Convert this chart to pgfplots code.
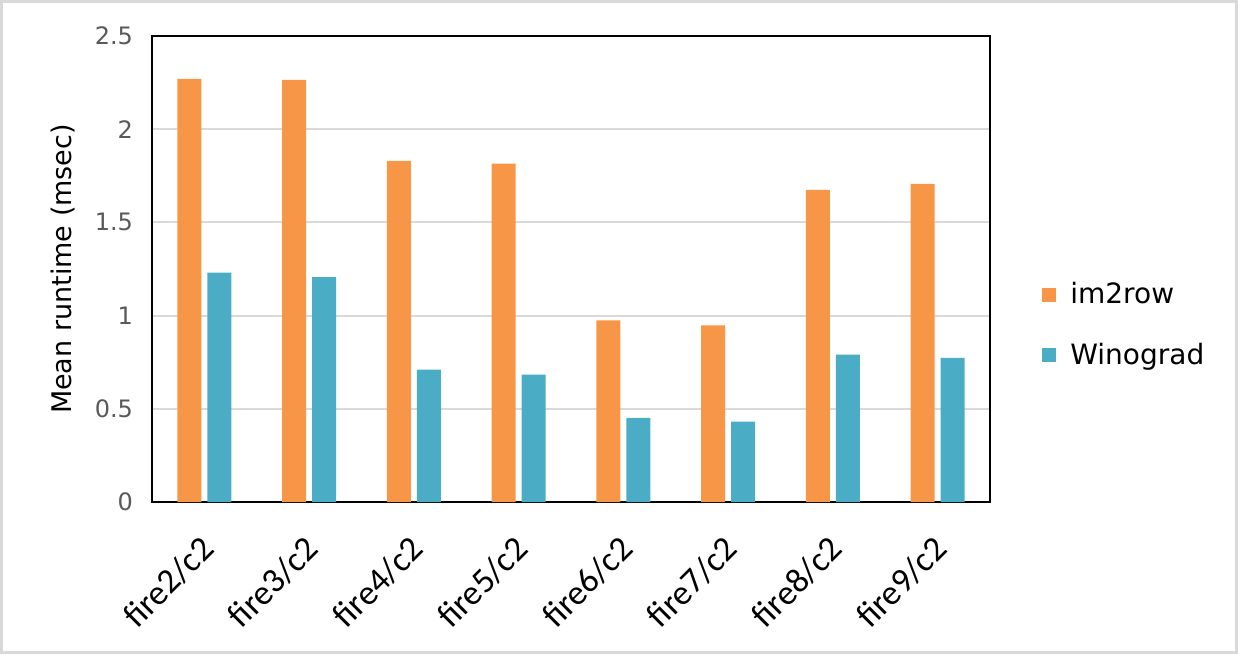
\documentclass[border=0pt]{standalone}
\usepackage{pgfplots}
\pgfplotsset{compat=1.18}
\usepackage{fontspec}
\setmainfont{DejaVu Sans}
\newfontfamily\carlito{Carlito}
\definecolor{cOrange}{HTML}{F79646}
\definecolor{cBlue}{HTML}{4BACC6}
\definecolor{cGrid}{HTML}{D9D9D9}
\definecolor{cTick}{HTML}{595959}
\begin{document}
\begin{tikzpicture}
\useasboundingbox (0,0) rectangle (619pt,327pt);
\draw[cGrid, line width=1.5pt] (0.75pt,0.75pt) rectangle (618.25pt,326.25pt);
\begin{axis}[
  at={(76pt,76pt)}, anchor=south west,
  scale only axis, width=419pt, height=233pt,
  ybar=3pt, bar width=12pt,
  xmin=-0.5, xmax=7.5, ymin=0, ymax=2.5,
  xtick={0,...,7},
  xticklabels={fire2/c2,fire3/c2,fire4/c2,fire5/c2,fire6/c2,fire7/c2,fire8/c2,fire9/c2},
  ytick={0,0.5,1,1.5,2,2.5},
  yticklabels={0,0.5,1,1.5,2,2.5},
  major tick length=0pt,
  ymajorgrids, grid style={cGrid, line width=1pt},
  axis line style={black, line width=1pt},
  yticklabel style={font=\fontsize{12}{14}\selectfont, text=cTick, xshift=-6pt},
  xticklabel style={font=\carlito\fontsize{17.5}{19}\selectfont, xshift=-3pt, yshift=-11pt, rotate=45, anchor=north east},
  ylabel={Mean runtime (msec)},
  ylabel style={font=\fontsize{13.5}{16}\selectfont, at={(axis description cs:-0.106,0.5)}, anchor=center},
  legend style={draw=none, fill=none, at={(axis description cs:1.062,0.38)}, anchor=west,
    font=\fontsize{14}{16}\selectfont, row sep=14pt, inner sep=0pt,
    /tikz/every even column/.append style={column sep=0pt}},
  legend cell align=left,
  legend image code/.code={\fill[#1] (0pt,-3.5pt) rectangle (7pt,3.5pt); \path (12pt,0pt);},
]
\addplot[draw=none, fill=cOrange] coordinates {(0,2.27) (1,2.265) (2,1.83) (3,1.815) (4,0.974) (5,0.947) (6,1.675) (7,1.707)};
\addplot[draw=none, fill=cBlue] coordinates {(0,1.23) (1,1.207) (2,0.71) (3,0.683) (4,0.451) (5,0.431) (6,0.79) (7,0.773)};
\legend{im2row,Winograd}
\end{axis}
\end{tikzpicture}
\end{document}
